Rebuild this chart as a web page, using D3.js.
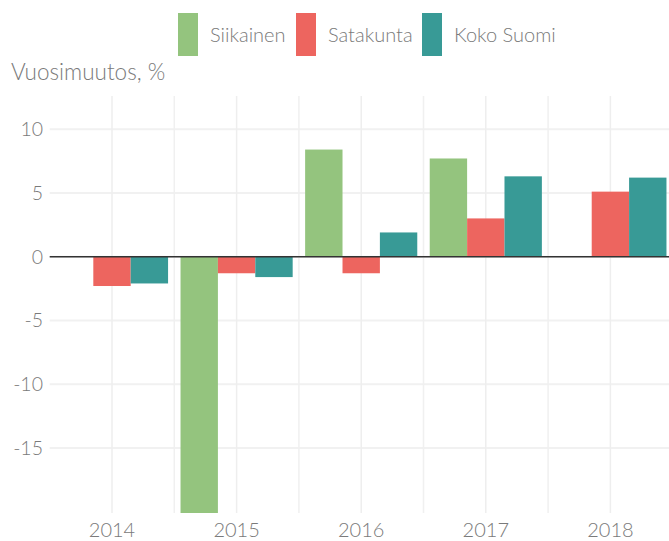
<!DOCTYPE html>
<html>
<head>
<meta charset="utf-8">
<script src="https://cdn.jsdelivr.net/npm/d3@7"></script>
<style>
  body { margin: 0; background: #fff; }
  text { font-family: Lato, "Open Sans", sans-serif; font-weight: 300; fill: #7a7a7a; }
</style>
</head>
<body>
<div id="viz"></div>
<script>
// chart data
var years = ['2014', '2015', '2016', '2017', '2018'];
var series = ['Siikainen', 'Satakunta', 'Koko Suomi'];
var colors = ['#94c47e', '#ed655f', '#389a96'];
var siikainen = [null, -28.0, 8.4, 7.7, null];
var satakunta = [-2.3, -1.3, -1.3, 3.0, 5.1];
var kokoSuomi = [-2.1, -1.6, 1.9, 6.3, 6.2];
var yTicks = [-15, -10, -5, 0, 5, 10];

var values = [siikainen, satakunta, kokoSuomi];

var width = 669, height = 541;

var svg = d3.select('#viz').append('svg')
  .attr('width', width)
  .attr('height', height);

// plot area
var plotLeft = 49.7, plotRight = 672.7, plotTop = 96, plotBottom = 513;

var x = d3.scaleBand().domain(years).range([plotLeft, plotRight]).padding(0);
var bw = x.bandwidth();
var x1 = d3.scaleBand().domain(series).range([0.05 * bw, 0.95 * bw]).padding(0);
var y = d3.scaleLinear().domain([-20.1, 12.6]).range([plotBottom, plotTop]);

svg.append('clipPath').attr('id', 'plotclip')
  .append('rect')
  .attr('x', plotLeft).attr('y', plotTop)
  .attr('width', plotRight - plotLeft).attr('height', plotBottom - plotTop);

// grid lines
var grid = svg.append('g').attr('class', 'grid');
grid.selectAll('.hgrid')
  .data(yTicks)
  .enter().append('line')
  .attr('x1', plotLeft).attr('x2', plotRight)
  .attr('y1', function (d) { return y(d); })
  .attr('y2', function (d) { return y(d); })
  .attr('stroke', '#f1f1f1')
  .attr('stroke-width', 2);

grid.selectAll('.vgrid')
  .data(years)
  .enter().append('line')
  .attr('x1', function (d) { return x(d) + bw / 2; })
  .attr('x2', function (d) { return x(d) + bw / 2; })
  .attr('y1', plotTop).attr('y2', plotBottom)
  .attr('stroke', '#eeeeee')
  .attr('stroke-width', 1.5);

grid.selectAll('.vgridminor')
  .data(years.slice(1))
  .enter().append('line')
  .attr('x1', function (d) { return x(d); })
  .attr('x2', function (d) { return x(d); })
  .attr('y1', plotTop).attr('y2', plotBottom)
  .attr('stroke', '#f0f0f0')
  .attr('stroke-width', 1.5);

// bars
var bars = svg.append('g').attr('clip-path', 'url(#plotclip)');
series.forEach(function (s, si) {
  bars.selectAll('.bar' + si)
    .data(years.map(function (yr, i) { return { year: yr, value: values[si][i] }; })
      .filter(function (d) { return d.value !== null; }))
    .enter().append('rect')
    .attr('x', function (d) { return x(d.year) + x1(s); })
    .attr('width', x1.bandwidth())
    .attr('y', function (d) { return y(Math.max(0, d.value)); })
    .attr('height', function (d) { return Math.abs(y(d.value) - y(0)); })
    .attr('fill', colors[si]);
});

// zero line
svg.append('line')
  .attr('x1', plotLeft).attr('x2', plotRight)
  .attr('y1', y(0)).attr('y2', y(0))
  .attr('stroke', '#333333')
  .attr('stroke-width', 1.6);

// y axis labels
svg.append('g').selectAll('text')
  .data(yTicks)
  .enter().append('text')
  .attr('x', 43)
  .attr('y', function (d) { return y(d); })
  .attr('dy', '0.36em')
  .attr('text-anchor', 'end')
  .style('font-size', '19.5px')
  .text(function (d) { return d; });

// x axis labels
svg.append('g').selectAll('text')
  .data(years)
  .enter().append('text')
  .attr('x', function (d) { return x(d) + bw / 2; })
  .attr('y', 537)
  .attr('text-anchor', 'middle')
  .style('font-size', '20px')
  .text(function (d) { return d; });

// y title
svg.append('text')
  .attr('x', 11)
  .attr('y', 80)
  .style('font-size', '22.5px')
  .text('Vuosimuutos, %');

// legend
var legendX = [178, 296, 422];
var legend = svg.append('g');
series.forEach(function (s, i) {
  legend.append('rect')
    .attr('x', legendX[i]).attr('y', 13)
    .attr('width', 20).attr('height', 43)
    .attr('fill', colors[i]);
  legend.append('text')
    .attr('x', legendX[i] + 32)
    .attr('y', 42)
    .style('font-size', '20px')
    .text(s);
});
</script>
</body>
</html>
